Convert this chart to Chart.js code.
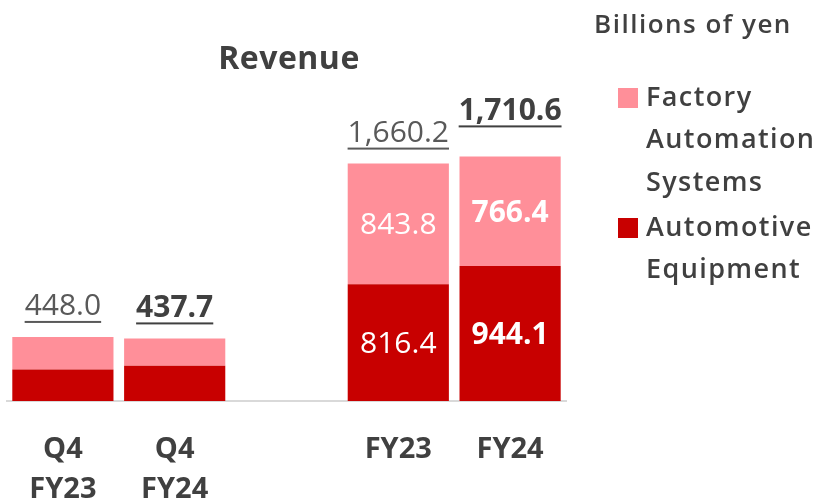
<!DOCTYPE html>
<html>
<head>
<meta charset="utf-8">
<script src="https://cdn.jsdelivr.net/npm/chart.js@4.4.1/dist/chart.umd.min.js"></script>
<style>
  html, body { margin: 0; padding: 0; background: #fff; }
  #wrap { width: 823px; height: 502px; position: relative; }
</style>
</head>
<body>
<div id="wrap"><canvas id="revenueChart" width="823" height="502"></canvas></div>
<script>
// Данные графика (млрд иен)
const categories = [['Q4', 'FY23'], ['Q4', 'FY24'], '', 'FY23', 'FY24'];
const automotive = [221.0, 247.0, null, 816.4, 944.1];
const factoryAutomation = [227.0, 190.7, null, 843.8, 766.4];
const totals = [448.0, 437.7, null, 1660.2, 1710.6];
const seriesNames = [['Factory', 'Automation', 'Systems'], ['Automotive', 'Equipment']];
const chartTitle = 'Revenue';
const unitText = 'Billions of yen';

const PINK = '#FF8F99';
const RED = '#C80000';
const DARK = '#404040';
const GREY = '#595959';
const FONT = '"Open Sans", "Noto Sans", sans-serif';

const fmt = (v) => v.toLocaleString('en-US', { minimumFractionDigits: 1, maximumFractionDigits: 1 });
const isCurrent = (i) => [].concat(categories[i]).join(' ').includes('FY24');

// Заголовок, легенда и подписи значений
const revenueLabels = {
  id: 'revenueLabels',
  afterDatasetsDraw(chart) {
    const { ctx } = chart;
    ctx.save();
    ctx.textBaseline = 'middle';

    // Заголовок
    ctx.fillStyle = DARK;
    ctx.textAlign = 'center';
    ctx.font = `bold 32px ${FONT}`;
    ctx.letterSpacing = '0.5px';
    ctx.fillText(chartTitle, 289, 60);

    // Единицы измерения
    ctx.textAlign = 'left';
    ctx.font = `600 26px ${FONT}`;
    ctx.letterSpacing = '1.5px';
    ctx.fillText(unitText, 594, 26);

    // Легенда
    const legendColors = [PINK, RED];
    const legendTop = [98, 228];
    ctx.font = `600 27px ${FONT}`;
    ctx.letterSpacing = '1.4px';
    seriesNames.forEach((lines, k) => {
      ctx.fillStyle = legendColors[k];
      ctx.fillRect(618, legendTop[k] - 10, 20, 20);
      ctx.fillStyle = DARK;
      lines.forEach((line, j) => ctx.fillText(line, 646, legendTop[k] + j * 42.5));
    });
    ctx.letterSpacing = '0px';

    const metaRed = chart.getDatasetMeta(0);
    const metaPink = chart.getDatasetMeta(1);

    // Итоги над столбцами (подчёркнутые)
    totals.forEach((total, i) => {
      if (total == null) return;
      const bar = metaPink.data[i];
      const bold = isCurrent(i);
      const lift = i === 4 ? 45 : 30;
      const text = fmt(total);
      ctx.font = `${bold ? 'bold' : 'normal'} 30px ${FONT}`;
      ctx.fillStyle = bold ? DARK : GREY;
      ctx.textAlign = 'center';
      const y = bar.y - lift;
      ctx.fillText(text, bar.x, y);
      const w = ctx.measureText(text).width;
      ctx.fillRect(bar.x - w / 2, y + 14, w, 2);
    });

    // Значения внутри годовых столбцов
    [metaRed, metaPink].forEach((meta, d) => {
      const values = d === 0 ? automotive : factoryAutomation;
      meta.data.forEach((bar, i) => {
        if (values[i] == null || i < 3) return;
        ctx.font = `${isCurrent(i) ? 'bold' : 'normal'} 30px ${FONT}`;
        ctx.fillStyle = '#ffffff';
        ctx.textAlign = 'center';
        ctx.fillText(fmt(values[i]), bar.x, (bar.y + bar.base) / 2 + 2);
      });
    });

    ctx.restore();
  },
};

const chartContainer = document.getElementById('revenueChart');

try {
  new Chart(chartContainer, {
    type: 'bar',
    data: {
      labels: categories,
      datasets: [
        { label: seriesNames[1].join(' '), data: automotive, backgroundColor: RED },
        { label: seriesNames[0].join(' '), data: factoryAutomation, backgroundColor: PINK },
      ],
    },
    options: {
      responsive: false,
      animation: false,
      layout: { padding: { left: 3, right: 257, top: 115, bottom: 0 } },
      datasets: { bar: { barPercentage: 0.905, categoryPercentage: 1.0 } },
      plugins: {
        legend: { display: false },
        title: { display: false },
        tooltip: { enabled: false },
      },
      scales: {
        x: {
          stacked: true,
          grid: { display: false, drawTicks: false },
          border: { display: true, color: '#D9D9D9', width: 2 },
          ticks: {
            color: DARK,
            padding: 29,
            font: { family: FONT, size: 29, weight: 'bold', lineHeight: '40px' },
            maxRotation: 0,
            autoSkip: false,
          },
          afterFit(scale) {
            scale.height = 101;
          },
        },
        y: {
          stacked: true,
          display: false,
          min: 0,
          max: 2000,
        },
      },
    },
    plugins: [revenueLabels],
  });
} catch (error) {
  console.error('Chart error:', error);
}
</script>
</body>
</html>
